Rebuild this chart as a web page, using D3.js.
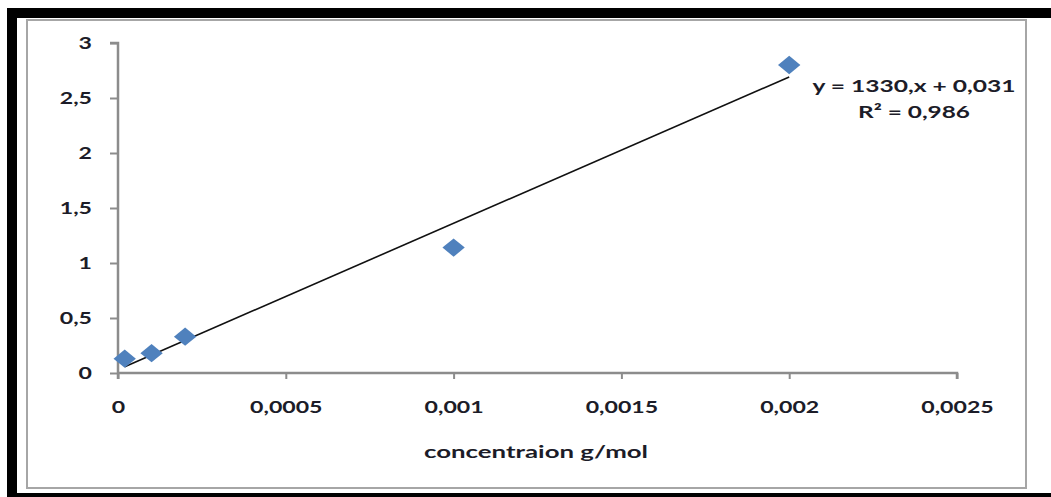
<!DOCTYPE html>
<html>
<head>
<meta charset="utf-8">
<script src="https://cdn.jsdelivr.net/npm/d3@7"></script>
<style>
  html, body { margin: 0; padding: 0; background: #fff; }
  svg { display: block; }
</style>
</head>
<body>
<svg id="chart" width="1051" height="497"></svg>
<script>
// Calibration data: concentration vs absorbance
const concentrations = [0.00002, 0.0001, 0.0002, 0.001, 0.002];
const absorbances = [0.13, 0.18, 0.33, 1.14, 2.80];

// Linear fit reported on the chart
const slope = 1330;
const intercept = 0.031;
const rSquared = 0.986;

const xTicks = [0, 0.0005, 0.001, 0.0015, 0.002, 0.0025];
const xTickLabels = ["0", "0,0005", "0,001", "0,0015", "0,002", "0,0025"];
const yTicks = [0, 0.5, 1, 1.5, 2, 2.5, 3];
const yTickLabels = ["0", "0,5", "1", "1,5", "2", "2,5", "3"];
const xTitle = "concentraion g/mol";
const equationLine = "y = 1330,x + 0,031";
const r2Line = "R² = 0,986";

const svg = d3.select("#chart");
const font = "Lato, 'Open Sans', sans-serif";
const textColor = "#1c1c28";

// Widen a text run horizontally by a factor (wide, stretched lettering)
function stretch(sel, factor) {
  sel.each(function () {
    const w = this.getComputedTextLength();
    d3.select(this).attr("textLength", w * factor).attr("lengthAdjust", "spacingAndGlyphs");
  });
}
function fitWidth(sel, width) {
  sel.attr("textLength", width).attr("lengthAdjust", "spacingAndGlyphs");
}

// Outer frame
svg.append("rect").attr("x", 0).attr("y", 0).attr("width", 1051).attr("height", 497).attr("fill", "#fff");
svg.append("rect").attr("x", 7).attr("y", 8).attr("width", 1044).attr("height", 10).attr("fill", "#000");
svg.append("rect").attr("x", 7).attr("y", 8).attr("width", 10).attr("height", 489).attr("fill", "#000");
svg.append("rect").attr("x", 7).attr("y", 493).attr("width", 1044).attr("height", 4).attr("fill", "#000");

// Chart area border
svg.append("rect")
  .attr("x", 27).attr("y", 20).attr("width", 999).attr("height", 468)
  .attr("fill", "#fff").attr("stroke", "#a6a6a6").attr("stroke-width", 2);

const x = d3.scaleLinear().domain([0, 0.0025]).range([118, 957]);
const y = d3.scaleLinear().domain([0, 3]).range([373, 43]);

// Y axis
const yAxis = svg.append("g")
  .attr("transform", `translate(${x(0)},0)`)
  .call(d3.axisLeft(y).tickValues(yTicks).tickSize(8).tickPadding(18)
    .tickFormat((d, i) => yTickLabels[i]));
// X axis
const xAxis = svg.append("g")
  .attr("transform", `translate(0,${y(0)})`)
  .call(d3.axisBottom(x).tickValues(xTicks).tickSize(6).tickPadding(22)
    .tickFormat((d, i) => xTickLabels[i]));

[yAxis, xAxis].forEach(g => {
  g.select(".domain").attr("stroke", "#8c8c8c").attr("stroke-width", 2.5);
  g.selectAll(".tick line").attr("stroke", "#8c8c8c").attr("stroke-width", 2);
  g.selectAll(".tick text")
    .attr("fill", textColor)
    .style("font-family", font)
    .style("font-weight", "bold")
    .style("font-size", "17.5px")
    .call(stretch, 1.32);
});
xAxis.select(".domain").attr("d", `M${x(0)},0H${x(0.0025)}V6`);
yAxis.select(".domain").attr("d", `M-8,${y(3)}H0V${y(0) + 6}`);

// Trend line across the measured range
const xMin = d3.min(concentrations), xMax = d3.max(concentrations);
svg.append("line")
  .attr("x1", x(xMin)).attr("y1", y(slope * xMin + intercept))
  .attr("x2", x(xMax)).attr("y2", y(slope * xMax + intercept))
  .attr("stroke", "#111").attr("stroke-width", 1.6);

// Diamond markers
const diamond = d3.symbol().type(d3.symbolSquare).size(250);
svg.append("g").selectAll("path")
  .data(concentrations.map((c, i) => [c, absorbances[i]]))
  .join("path")
  .attr("d", diamond)
  .attr("transform", d => `translate(${x(d[0])},${y(d[1])}) scale(1,0.82) rotate(45)`)
  .attr("fill", "#4f81bd");

// Axis title
svg.append("text")
  .attr("x", 536).attr("y", 458)
  .attr("text-anchor", "middle")
  .attr("fill", textColor)
  .style("font-family", font).style("font-weight", "bold").style("font-size", "17.5px")
  .text(xTitle)
  .call(fitWidth, 224);

// Fit equation
const eq = svg.append("text")
  .attr("text-anchor", "middle")
  .attr("fill", textColor)
  .style("font-family", font).style("font-weight", "bold").style("font-size", "17.5px");
eq.append("tspan").attr("x", 914).attr("y", 92).text(equationLine).call(fitWidth, 203);
eq.append("tspan").attr("x", 914).attr("y", 118).text(r2Line).call(fitWidth, 112);
</script>
</body>
</html>
